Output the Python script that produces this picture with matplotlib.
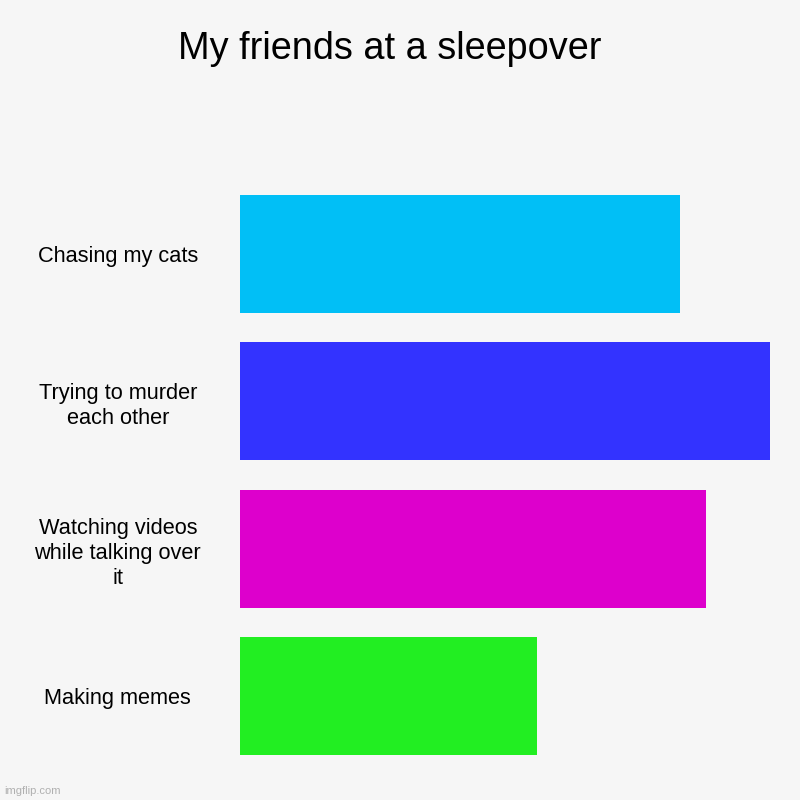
import matplotlib.pyplot as plt

# Chart data
categories = ["Chasing my cats", "Trying to murder\neach other",
              "Watching videos\nwhile talking over\nit", "Making memes"]
values = [83, 100, 88, 56]
colors = ["#01bff6", "#3333ff", "#dd00cc", "#22ee22"]

plt.rcParams["font.family"] = ["Liberation Sans", "DejaVu Sans"]

fig = plt.figure(figsize=(8, 8), dpi=100, facecolor="#f6f6f6")
ax = fig.add_axes([0.3, 0.0375, 0.6625, 0.7375])
ax.set_facecolor("#f6f6f6")

pos = list(range(len(categories)))
ax.barh(pos, values, height=0.8, color=colors)
ax.set_xlim(0, 100)
ax.set_ylim(len(categories) - 0.5, -0.5)

ax.set_yticks(pos)
ax.set_yticklabels(categories, ha="center", fontsize=15.7, linespacing=1.27)
ax.tick_params(axis="y", length=0, pad=88)
ax.set_xticks([])
for s in ax.spines.values():
    s.set_visible(False)

fig.text(390 / 800, 1 - 49 / 800, "My friends at a sleepover", ha="center",
         va="center", fontsize=27.3)
fig.text(4 / 800, 1 - 791 / 800, "imgflip.com", ha="left", va="center",
         fontsize=8, color="#b0b0b0")

fig.savefig("out.png", dpi=100, facecolor=fig.get_facecolor())
